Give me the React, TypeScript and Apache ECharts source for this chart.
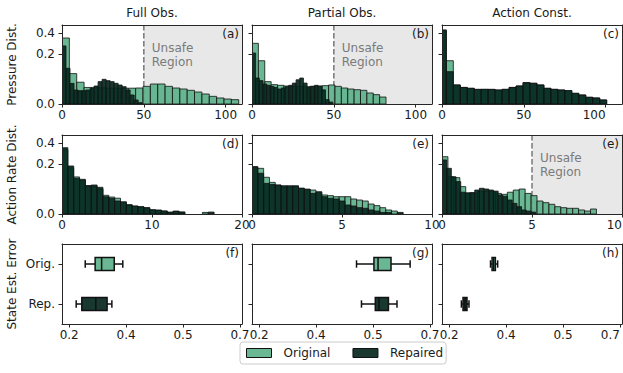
import React, { useEffect, useRef } from 'react';
import * as echarts from 'echarts';

// ---------- text ----------
const COL_TITLES = ['Full Obs.', 'Partial Obs.', 'Action Const.'];
const ROW_NAMES = ['Pressure Dist.', 'Action Rate Dist.', 'State Est. Error'];
const PANEL_TAGS = ['(a)', '(b)', '(c)', '(d)', '(e)', '(e)', '(f)', '(g)', '(h)'];
const BOX_CATEGORIES = ['Rep.', 'Orig.'];
const SERIES_NAMES = ['Original', 'Repaired'];

// ---------- axes (data units) ----------
const X_MIN = [0, 0, 0, 0, 0, 0, 0.179, 0.179, 0.179];
const X_MAX = [110, 110, 110, 20, 10, 10, 0.706, 0.706, 0.706];
const BOX_TICKS = [0.2, 0.2 + 0.5 / 3, 0.2 + 1 / 3, 0.7];
const X_TICKS = [
  [0, 50, 100], [0, 50, 100], [0, 50, 100],
  [0, 10, 20], [0, 5, 10], [0, 5, 10],
  BOX_TICKS, BOX_TICKS, BOX_TICKS,
];
const DIST_MAX = 0.5; // y-axis is square-root scaled
const DIST_TICKS = [0, 0.2, 0.4];

// unsafe region thresholds (panel index, threshold)
const UNSAFE_PANELS = [0, 1, 5];
const UNSAFE_THRESHOLDS = [50, 50, 5];

// ---------- histogram data: [binStart, binWidth] and heights ----------
// (a) Full Obs., pressure
const pressFullOrigBins = [0, 4.5];
const pressFullOrig = [0.349, 0.074, 0.038, 0.022, 0.022, 0.021, 0.02, 0.02, 0.02, 0.02, 0.0205, 0.025, 0.032, 0.032, 0.025, 0.0205, 0.018, 0.015, 0.0115, 0.008, 0.0047, 0.0029, 0.002, 0.0015];
const pressFullRepBins = [0, 2.45];
const pressFullRep = [0.27, 0.102, 0.034, 0.0157, 0.0142, 0.0142, 0.0157, 0.0197, 0.026, 0.04, 0.0488, 0.0436, 0.04, 0.0343, 0.0289, 0.024, 0.0157, 0.0065, 0.0013, 0.00014];
// (b) Partial Obs., pressure
const pressPartOrigBins = [0, 3.9];
const pressPartOrig = [0.295, 0.15, 0.04, 0.03, 0.028, 0.026, 0.025, 0.025, 0.024, 0.025, 0.026, 0.027, 0.029, 0.025, 0.0205, 0.018, 0.0164, 0.015, 0.0097, 0.007, 0.0039];
const pressPartRepBins = [0, 2.245];
const pressPartRep = [0.208, 0.054, 0.0436, 0.032, 0.028, 0.025, 0.022, 0.018, 0.0205, 0.024, 0.028, 0.035, 0.047, 0.054, 0.035, 0.022, 0.025, 0.028, 0.025, 0.016, 0.0015, 0.0003];
// (c) Action Const., pressure
const pressActOrigBins = [-1.6, 4.26];
const pressActOrig = [0.43, 0.15, 0.029, 0.022, 0.0197, 0.0172, 0.0172, 0.0172, 0.0157, 0.0172, 0.022, 0.026, 0.0364, 0.0343, 0.029, 0.0197, 0.0172, 0.0157, 0.0142, 0.0091, 0.0065, 0.0036, 0.0029, 0.0013];
const pressActRepBins = [-1.6, 4.26];
const pressActRep = [0.44, 0.0837, 0.029, 0.022, 0.0197, 0.017, 0.0172, 0.017, 0.0157, 0.0172, 0.022, 0.026, 0.0364, 0.0343, 0.029, 0.0197, 0.0172, 0.0157, 0.0142, 0.0091, 0.0065, 0.0036, 0.0029, 0.0013];
// (d) Full Obs., action rate
const rateFullOrigBins = [0, 0.65];
const rateFullOrig = [0.33, 0.17, 0.11, 0.09, 0.065, 0.06, 0.05, 0.028, 0.023, 0.02, 0.012, 0.007, 0.005, 0.004, 0.003, 0.0015, 0.001, 0.0007, 0.0003, 0.0005, 0.0003, 0, 0, 0, 0.0002, 0];
const rateFullRepBins = [0, 0.65];
const rateFullRep = [0.352, 0.1846, 0.102, 0.0964, 0.0628, 0.0674, 0.057, 0.024, 0.0197, 0.0135, 0.011, 0.0065, 0.005, 0.0043, 0.0032, 0.0013, 0.0013, 0.0007, 0.0002, 0.0007, 0.0003, 0, 0, 0, 0, 0.0003];
// (e) Partial Obs., action rate
const ratePartOrigBins = [0, 0.323];
const ratePartOrig = [0.175, 0.167, 0.108, 0.08, 0.067, 0.058, 0.058, 0.06, 0.053, 0.049, 0.046, 0.04, 0.029, 0.027, 0.024, 0.024, 0.024, 0.018, 0.0157, 0.0135, 0.008, 0.0056, 0.0032, 0.0013, 0.0007, 0];
const ratePartRepBins = [0, 0.323];
const ratePartRep = [0.18, 0.133, 0.075, 0.07, 0.067, 0.064, 0.064, 0.064, 0.053, 0.049, 0.034, 0.037, 0.024, 0.0197, 0.018, 0.0135, 0.0065, 0.0051, 0.0032, 0.0026, 0.0013, 0.0007, 0.0002, 0.0002, 0, 0.0002];
// (e) Action Const., action rate
const rateActOrigBins = [0, 0.33];
const rateActOrig = [0.263, 0.111, 0.106, 0.06, 0.034, 0.034, 0.04, 0.042, 0.04, 0.034, 0.031, 0.038, 0.046, 0.05, 0.034, 0.027, 0.0135, 0.0103, 0.0075, 0.0043, 0.0032, 0.0026, 0.0026, 0.0013, 0.0007, 0.002];
const rateActRepBins = [0, 0.26];
const rateActRep = [0.234, 0.167, 0.111, 0.084, 0.038, 0.036, 0.037, 0.046, 0.053, 0.05, 0.046, 0.042, 0.029, 0.025, 0.0157, 0.009, 0.0043, 0.0013, 0.0007, 0.0003];

// ---------- state estimation error: [min, q1, median, q3, max] ----------
const errFullOrig = [0.247, 0.276, 0.295, 0.332, 0.357];
const errFullRep = [0.2205, 0.237, 0.278, 0.311, 0.325];
const errPartOrig = [0.485, 0.536, 0.548, 0.586, 0.642];
const errPartRep = [0.4995, 0.54, 0.551, 0.5785, 0.6035];
const errActOrig = [0.321, 0.3256, 0.3304, 0.3353, 0.342];
const errActRep = [0.2357, 0.2406, 0.2464, 0.2522, 0.258];

// ---------- layout & style ----------
const GRID_LEFT = [62, 252, 442];
const GRID_TOP = [25, 135, 244];
const GRID_W = 180;
const GRID_H = [79, 79, 80];
const FONT = 'DejaVu Sans';
const TXT = '#1a1a1a';
const FRAME = '#262626';
const ORIG_COLOR = 'rgba(90,175,135,0.9)';
const REP_COLOR = 'rgba(5,40,30,0.92)';
const EDGE = '#111';

function histSeries(name: string, gi: number, bins: number[], heights: number[], color: string, z: number) {
  const [start, width] = bins;
  const data = heights.map((h, i) => [start + i * width, start + (i + 1) * width, h]).filter((d) => d[2] > 0);
  return {
    type: 'custom',
    name,
    xAxisIndex: gi,
    yAxisIndex: gi,
    z,
    clip: true,
    silent: true,
    data,
    encode: { x: [0, 1], y: 2 },
    itemStyle: { color },
    renderItem: (_p: any, api: any) => {
      const h = api.value(2);
      const p0 = api.coord([api.value(0), Math.sqrt(h)]);
      const p1 = api.coord([api.value(1), 0]);
      return {
        type: 'rect',
        shape: { x: p0[0], y: p0[1], width: p1[0] - p0[0], height: p1[1] - p0[1] },
        style: { fill: color, stroke: EDGE, lineWidth: 0.8 },
      };
    },
  };
}

function boxSeries(name: string, gi: number, cat: number, stats: number[], color: string) {
  return {
    type: 'custom',
    name,
    xAxisIndex: gi,
    yAxisIndex: gi,
    z: 3,
    silent: true,
    data: [[cat, ...stats]],
    encode: { x: [1, 2, 3, 4, 5], y: 0 },
    itemStyle: { color },
    renderItem: (_p: any, api: any) => {
      const c = api.value(0);
      const pts = [1, 2, 3, 4, 5].map((k) => api.coord([api.value(k), c]));
      const y = pts[0][1];
      const bh = 6.6;
      const ch = 3.7;
      const ls = { stroke: EDGE, lineWidth: 1.5 };
      return {
        type: 'group',
        children: [
          { type: 'line', shape: { x1: pts[0][0], y1: y, x2: pts[1][0], y2: y }, style: ls },
          { type: 'line', shape: { x1: pts[3][0], y1: y, x2: pts[4][0], y2: y }, style: ls },
          { type: 'line', shape: { x1: pts[0][0], y1: y - ch, x2: pts[0][0], y2: y + ch }, style: ls },
          { type: 'line', shape: { x1: pts[4][0], y1: y - ch, x2: pts[4][0], y2: y + ch }, style: ls },
          { type: 'rect', shape: { x: pts[1][0], y: y - bh, width: pts[3][0] - pts[1][0], height: 2 * bh }, style: { fill: color, stroke: EDGE, lineWidth: 1.5 } },
          { type: 'line', shape: { x1: pts[2][0], y1: y - bh, x2: pts[2][0], y2: y + bh }, style: ls },
        ],
      };
    },
  };
}

function unsafeSeries(gi: number, thr: number) {
  return {
    type: 'custom',
    xAxisIndex: gi,
    yAxisIndex: gi,
    z: 1,
    silent: true,
    data: [[thr, X_MAX[gi], 0]],
    encode: { x: [0, 1], y: 2 },
    renderItem: (_p: any, api: any) => {
      const p0 = api.coord([api.value(0), Math.sqrt(DIST_MAX)]);
      const p1 = api.coord([api.value(1), 0]);
      return {
        type: 'group',
        children: [
          { type: 'rect', shape: { x: p0[0], y: p0[1], width: p1[0] - p0[0], height: p1[1] - p0[1] }, style: { fill: '#e8e8e8' } },
          { type: 'line', shape: { x1: p0[0], y1: p0[1], x2: p0[0], y2: p1[1] }, style: { stroke: '#7f7f7f', lineWidth: 1.6, lineDash: [5.5, 2.5] } },
          {
            type: 'text',
            x: p0[0] + 8,
            y: p0[1] + 16,
            style: { text: 'Unsafe\nRegion', fill: '#7a7a7a', fontSize: 12, fontFamily: FONT, lineHeight: 14, align: 'left', verticalAlign: 'top', textAlign: 'left', textVerticalAlign: 'top' },
          },
        ],
      };
    },
  };
}

function buildOption() {
  const grid: any[] = [];
  const xAxis: any[] = [];
  const yAxis: any[] = [];
  for (let gi = 0; gi < 9; gi++) {
    const r = Math.floor(gi / 3);
    const c = gi % 3;
    grid.push({ left: GRID_LEFT[c], top: GRID_TOP[r], width: GRID_W, height: GRID_H[r], containLabel: false, outerBoundsMode: 'none' });
  }
  for (let gi = 0; gi < 9; gi++) {
    const r = Math.floor(gi / 3);
    const c = gi % 3;
    const isBox = r === 2;
    xAxis.push({
      type: 'value', gridIndex: gi, position: 'bottom', min: X_MIN[gi], max: X_MAX[gi], z: 10,
      axisLine: { show: true, onZero: false, lineStyle: { color: FRAME, width: 1 } },
      axisTick: { show: true, length: 3.5, customValues: X_TICKS[gi], lineStyle: { color: FRAME, width: 1 } },
      axisLabel: {
        show: true, customValues: X_TICKS[gi], margin: 5, fontSize: 12, color: TXT, fontFamily: FONT,
        alignMaxLabel: c === 2 ? 'right' : null,
        formatter: isBox ? (v: number) => v.toFixed(1) : (v: number) => String(v),
      },
      splitLine: { show: false },
    });
  }
  for (let gi = 0; gi < 9; gi++) {
    const r = Math.floor(gi / 3);
    const c = gi % 3;
    const isBox = r === 2;
    const base: any = {
      gridIndex: gi, position: 'left', z: 10,
      axisLine: { show: true, onZero: false, lineStyle: { color: FRAME, width: 1 } },
      splitLine: { show: false },
      name: c === 0 ? ROW_NAMES[r] : '',
      nameLocation: 'middle', nameRotate: 90, nameGap: 44,
      nameTextStyle: { fontSize: 12, color: TXT, fontFamily: FONT },
    };
    if (isBox) {
      yAxis.push({
        ...base, type: 'category', data: BOX_CATEGORIES,
        axisTick: { show: true, length: 3.5, alignWithLabel: true, lineStyle: { color: FRAME, width: 1 } },
        axisLabel: { show: c === 0, margin: 7, fontSize: 12, color: TXT, fontFamily: FONT },
      });
    } else {
      const ticks = DIST_TICKS.map((t) => Math.sqrt(t));
      yAxis.push({
        ...base, type: 'value', min: 0, max: Math.sqrt(DIST_MAX),
        axisTick: { show: true, length: 3.5, customValues: ticks, lineStyle: { color: FRAME, width: 1 } },
        axisLabel: {
          show: c === 0, customValues: ticks, margin: 7, fontSize: 12, color: TXT, fontFamily: FONT,
          formatter: (v: number) => (v * v).toFixed(1),
        },
      });
    }
  }
  // frame: top & right spines
  for (let gi = 0; gi < 9; gi++) {
    xAxis.push({
      type: 'value', gridIndex: gi, position: 'top', min: 0, max: 1, z: 10,
      axisLine: { show: true, onZero: false, lineStyle: { color: FRAME, width: 1 } },
      axisTick: { show: false }, axisLabel: { show: false }, splitLine: { show: false },
    });
    yAxis.push({
      type: 'value', gridIndex: gi, position: 'right', min: 0, max: 1, z: 10,
      axisLine: { show: true, onZero: false, lineStyle: { color: FRAME, width: 1 } },
      axisTick: { show: false }, axisLabel: { show: false }, splitLine: { show: false },
    });
  }

  const series: any[] = [];
  UNSAFE_PANELS.forEach((gi, i) => series.push(unsafeSeries(gi, UNSAFE_THRESHOLDS[i])));
  const origHists = [
    [pressFullOrigBins, pressFullOrig], [pressPartOrigBins, pressPartOrig], [pressActOrigBins, pressActOrig],
    [rateFullOrigBins, rateFullOrig], [ratePartOrigBins, ratePartOrig], [rateActOrigBins, rateActOrig],
  ];
  const repHists = [
    [pressFullRepBins, pressFullRep], [pressPartRepBins, pressPartRep], [pressActRepBins, pressActRep],
    [rateFullRepBins, rateFullRep], [ratePartRepBins, ratePartRep], [rateActRepBins, rateActRep],
  ];
  for (let gi = 0; gi < 6; gi++) {
    series.push(histSeries(SERIES_NAMES[0], gi, origHists[gi][0], origHists[gi][1], ORIG_COLOR, 2));
    series.push(histSeries(SERIES_NAMES[1], gi, repHists[gi][0], repHists[gi][1], REP_COLOR, 3));
  }
  const boxes = [[errFullOrig, errFullRep], [errPartOrig, errPartRep], [errActOrig, errActRep]];
  boxes.forEach(([o, rp], k) => {
    series.push(boxSeries(SERIES_NAMES[0], 6 + k, 1, o, ORIG_COLOR));
    series.push(boxSeries(SERIES_NAMES[1], 6 + k, 0, rp, REP_COLOR));
  });

  const graphic: any[] = [];
  COL_TITLES.forEach((t, c) => {
    graphic.push({
      type: 'text', x: GRID_LEFT[c] + GRID_W / 2, y: 13, z: 100,
      style: { text: t, fontSize: 12, fontFamily: FONT, fill: TXT, align: 'center', verticalAlign: 'middle', textAlign: 'center', textVerticalAlign: 'middle' },
    });
  });
  PANEL_TAGS.forEach((t, gi) => {
    const r = Math.floor(gi / 3);
    const c = gi % 3;
    graphic.push({
      type: 'text', x: GRID_LEFT[c] + GRID_W - 3, y: GRID_TOP[r] + 3, z: 100,
      style: { text: t, fontSize: 12, fontFamily: FONT, fill: TXT, align: 'right', verticalAlign: 'top', textAlign: 'right', textVerticalAlign: 'top' },
    });
  });

  return {
    animation: false,
    backgroundColor: '#fff',
    textStyle: { fontFamily: FONT },
    grid,
    xAxis,
    yAxis,
    series,
    graphic,
    legend: {
      left: 240, top: 342, orient: 'horizontal',
      itemWidth: 25, itemHeight: 9, itemGap: 22,
      padding: [5, 3, 5, 6],
      borderColor: '#cccccc', borderWidth: 1, borderRadius: 3, backgroundColor: '#fff',
      icon: 'rect', selectedMode: false,
      textStyle: { fontSize: 12, color: TXT, fontFamily: FONT, padding: [0, 0, 0, 7] },
      data: [
        { name: SERIES_NAMES[0], itemStyle: { color: ORIG_COLOR, borderColor: EDGE, borderWidth: 1 } },
        { name: SERIES_NAMES[1], itemStyle: { color: REP_COLOR, borderColor: EDGE, borderWidth: 1 } },
      ],
    },
  };
}

export default function App() {
  const ref = useRef<HTMLDivElement>(null);
  useEffect(() => {
    if (!ref.current) return;
    const chart = echarts.init(ref.current, null, { renderer: 'svg' });
    chart.setOption(buildOption() as any);
    return () => chart.dispose();
  }, []);
  return <div ref={ref} style={{ position: 'fixed', left: 0, top: 0, width: 623, height: 373 }} />;
}
